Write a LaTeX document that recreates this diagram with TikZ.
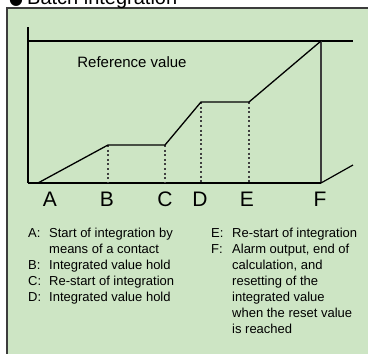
\documentclass[tikz,border=0pt]{standalone}
\usepackage{fontspec}
\setmainfont{Liberation Sans}
\newfontfamily\symfont{DejaVu Sans}
\definecolor{panelgreen}{HTML}{CDE5C4}
\definecolor{framegray}{HTML}{3C3C3C}
\definecolor{dotgray}{HTML}{404040}
\tikzset{
  panel/.style={draw=framegray, line width=1.5pt, fill=panelgreen},
  axisline/.style={draw=black, line width=1.4pt},
  baseline/.style={draw=black, line width=2pt},
  fline/.style={draw=framegray, line width=1.8pt},
  curve/.style={draw=black, line width=1.3pt, line join=miter},
  dotline/.style={draw=dotgray, line width=1.3pt, dash pattern=on 2pt off 2.6pt},
  ptlabel/.style={anchor=base, inner sep=0pt, font=\fontsize{21}{24}\selectfont},
  legkey/.style={anchor=base west, inner sep=0pt, font=\fontsize{13}{15.5}\selectfont},
}
\begin{document}
\begin{tikzpicture}[x=1pt, y=-1pt]
\useasboundingbox (0,0) rectangle (368,354);
\clip (0,0) rectangle (368,354);
% panel
\draw[panel] (7,8) rectangle (375,362);
% title
\node[anchor=base west, inner sep=0pt, font=\fontsize{20}{24}\selectfont] (title) at (9,4) {{\symfont\fontsize{16}{20}\selectfont ●}\hspace{4pt}Batch integration};
% graph coordinates
\coordinate (axtop) at (28,27);
\coordinate (reflev) at (28,41);
\coordinate (origin) at (28,183);
\coordinate (refend) at (353,41);
\coordinate (ftop) at (321,41);
\coordinate (fbot) at (321,183);
\coordinate (tail) at (353,165);
\coordinate (pa) at (38,183);
\coordinate (pb) at (108,145);
\coordinate (pc) at (165,145);
\coordinate (pd) at (201,102);
\coordinate (pe) at (249,102);
% axes
\draw[axisline] (axtop) -- (origin);
\draw[axisline] (reflev) -- (refend);
\draw[fline] (ftop) -- (fbot);
\draw[baseline] (origin) -- (fbot);
\draw[axisline, line width=1.2pt] (fbot) -- (tail);
% dotted verticals
\draw[dotline] (pb) -- (pb |- origin);
\draw[dotline] (pc) -- (pc |- origin);
\draw[dotline] (pd) -- (pd |- origin);
\draw[dotline] (pe) -- (pe |- origin);
% integration curve
\draw[curve] (pa) -- (pb) -- (pc) -- (pd) -- (pe) -- (ftop);
% reference label
\node[anchor=base, inner sep=0pt, font=\fontsize{15}{18}\selectfont] (reflabel) at (132,67.5) {Reference value};
% point labels
\node[ptlabel] (la) at (50,206) {A};
\node[ptlabel] (lb) at (107,206) {B};
\node[ptlabel] (lc) at (165,206) {C};
\node[ptlabel] (ld) at (200,206) {D};
\node[ptlabel] (le) at (247,206) {E};
\node[ptlabel] (lf) at (320,206) {F};
% legend left
\node[legkey] (ka) at (28,237.5) {A:};
\node[legkey] (ta1) at (49,237.5) {Start of integration by};
\node[legkey] (ta2) at (49,253.5) {means of a contact};
\node[legkey] (kb) at (28,269.5) {B:};
\node[legkey] (tb) at (49,269.5) {Integrated value hold};
\node[legkey] (kc) at (28,285.5) {C:};
\node[legkey] (tc) at (49,285.5) {Re-start of integration};
\node[legkey] (kd) at (28,301.5) {D:};
\node[legkey] (td) at (49,301.5) {Integrated value hold};
% legend right
\node[legkey] (ke) at (211,237.5) {E:};
\node[legkey] (te) at (232,237.5) {Re-start of integration};
\node[legkey] (kf) at (211,253.5) {F:};
\node[legkey] (tf1) at (232,253.5) {Alarm output, end of};
\node[legkey] (tf2) at (232,269.5) {calculation, and};
\node[legkey] (tf3) at (232,285.5) {resetting of the};
\node[legkey] (tf4) at (232,301.5) {integrated value};
\node[legkey] (tf5) at (232,317.5) {when the reset value};
\node[legkey] (tf6) at (232,333.5) {is reached};
\end{tikzpicture}
\end{document}
